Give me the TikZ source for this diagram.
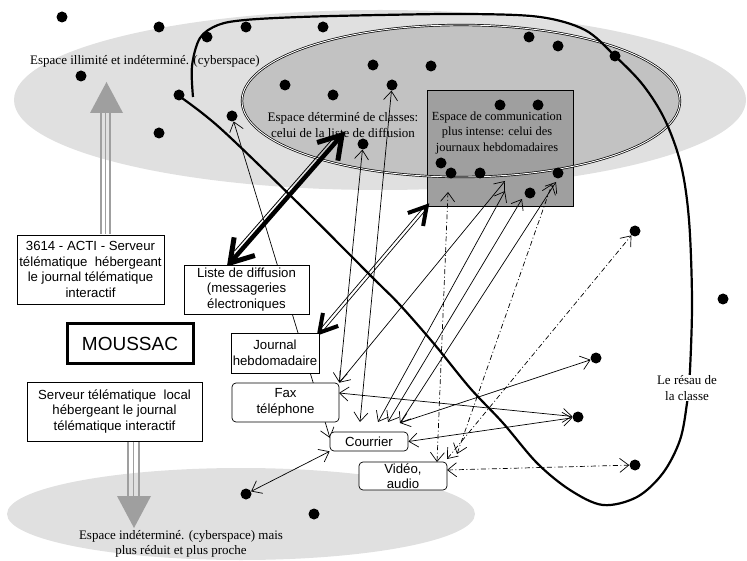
\documentclass[tikz,border=0pt]{standalone}
\usepackage{fontspec}
\setmainfont{Liberation Serif}
\newfontfamily\arial{Liberation Sans}
\usetikzlibrary{arrows.meta,calc}
\pgfdeclarelayer{back}
\pgfdeclarelayer{lines}
\pgfsetlayers{back,lines,main}
\begin{document}
\begin{tikzpicture}[x=1pt,y=-1pt,
  box/.style={draw, fill=white, line width=0.7pt, font=\arial\fontsize{13.2}{15.5}\selectfont, align=center, inner sep=0pt},
  rbox/.style={box, rounded corners=4pt},
  lab/.style={font=\fontsize{13}{15.5}\selectfont, align=center, inner sep=0pt},
  dot/.style={circle, fill=black, inner sep=0pt, minimum size=11pt},
  conn/.style={line width=0.7pt, {Straight Barb[length=9pt,width=14pt]}-{Straight Barb[length=9pt,width=14pt]}},
  dd/.style={conn, dash pattern=on 5pt off 2.5pt on 1pt off 2.5pt},
  greyarrow/.style={gray!75},
]
\useasboundingbox (0,0) rectangle (747,561);

\begin{pgfonlayer}{back}
  \fill[gray!24] (380,100) ellipse [x radius=366pt, y radius=90pt];
  \fill[gray!24] (241,514) ellipse [x radius=234pt, y radius=46pt];
  \fill[gray!48] (461,101) ellipse [x radius=219pt, y radius=76pt];
  \node[draw, line width=0.6pt, fill=gray!75, minimum width=146pt, minimum height=116pt, inner sep=0pt] (comm) at (500,148) {};
  \draw[double, double distance=0.9pt, line width=0.7pt] (461,101) ellipse [x radius=219pt, y radius=76pt];
  \node[lab] (illim) at (145,61) {Espace illimité et indéterminé. (cyberspace)};
  \node[lab] (classes) at (343,125) {Espace déterminé de classes:\\celui de la liste de diffusion};
  \node[lab, font=\fontsize{12.4}{15.5}\selectfont] (commtxt) at (497,133) {Espace de communication\\plus intense: celui des\\journaux hebdomadaires};
  \node[lab] (proche) at (181,544) {Espace indéterminé. (cyberspace) mais\\plus réduit et plus proche};
\end{pgfonlayer}

% boxes
\node[box, minimum width=147pt, minimum height=69pt] (acti) at (90.5,269.5) {3614 - ACTI - Serveur\\télématique\ \ hébergeant\\le journal télématique\\interactif};
\node[box, minimum width=125pt, minimum height=49pt] (liste) at (246.5,289.5) {Liste de diffusion\\(messageries\\électroniques};
\node[box, line width=3pt, minimum width=126pt, minimum height=39pt, font=\arial\fontsize{19}{22}\selectfont] (moussac) at (130,343.5) {MOUSSAC};
\node[box, minimum width=88pt, minimum height=40pt] (journal) at (275,353) {Journal\\hebdomadaire};
\node[rbox, minimum width=107pt, minimum height=39pt] (fax) at (285.5,402.5) {Fax\\téléphone};
\node[rbox, minimum width=78pt, minimum height=19pt] (courrier) at (369,441.5) {Courrier};
\node[rbox, minimum width=88pt, minimum height=28pt] (video) at (403,476) {Vidéo,\\audio};
\node[box, minimum width=175pt, minimum height=59pt] (local) at (114.5,411.5) {Serveur télématique\ \ local\\hébergeant le journal\\télématique interactif};

% connector end points
\coordinate (cl) at (330,438);
\coordinate (ct1) at (378,422);
\coordinate (ct2) at (388,422);
\coordinate (ct3) at (400,423);
\coordinate (ct4) at (360,422);
\coordinate (ru1) at (505,181);
\coordinate (ru2) at (505,191);
\coordinate (ru3) at (522,199);
\coordinate (ru4) at (556,182);
\coordinate (ru5) at (552,184);
\coordinate (ru6) at (448,192);
\coordinate (fe) at (339,393);
\coordinate (vt1) at (437,462);
\coordinate (vt2) at (447,459);
\coordinate (vt3) at (457,454);
\coordinate (ve) at (447,470);
\coordinate (la) at (230,263);
\coordinate (lb) at (342,135);

\begin{pgfonlayer}{lines}
  % class network curve
  \draw[line width=2.2pt] plot[smooth, tension=0.55] coordinates {(193,97) (192,66) (200,38) (218,25) (245,20) (300,17) (380,15) (470,14) (540,17) (585,30) (615,56) (643,85) (665,120) (681,165) (689,220) (692,300) (690,370) (687,403) (680,440) (663,473) (637,497) (603,505) (570,490) (537,463) (503,423) (470,388) (435,345) (400,305) (373,278) (300,205) (220,128) (179,96)};
  % dots
  \foreach \p [count=\i] in {(62,17),(159,27),(246,27),(207,37),(323,27),(373,65),(81,76),(179,95),(285,85),(333,95),(159,133),(431,66),(529,37),(558,46),(615,56),(500,105),(538,105),(441,163),(451,173),(480,173),(558,173),(530,193),(723,299),(314,514)}
    \node[dot] (p\i) at \p {};
  \node[dot] (dA) at (232,116) {};
  \node[dot] (dB) at (363,144) {};
  \node[dot] (dC) at (392,85) {};
  \node[dot] (dD) at (578,417) {};
  \node[dot] (dE) at (596,358) {};
  \node[dot] (dF) at (246,494) {};
  \node[dot] (dG) at (635,231) {};
  \node[dot] (dH) at (635,465) {};
  % thin connectors
  \draw[conn] (cl) -- (dA);
  \draw[conn] (fax.north east) -- (dB);
  \draw[conn] (ct4) -- (dC);
  \draw[conn] (fax.north east) -- (ru1);
  \draw[conn] (ct1) -- (ru2);
  \draw[conn] (ct2) -- (ru3);
  \draw[conn] (ct3) -- (ru4);
  \draw[conn] (fe) -- (dD);
  \draw[conn] (courrier.east) -- (dD);
  \draw[conn] (ct3) -- (dE);
  \draw[conn] (courrier.south west) -- (dF);
  % dash-dot connectors
  \draw[dd] (vt1) -- (ru6);
  \draw[dd] (vt2) -- (dG);
  \draw[dd] (vt3) -- (ru5);
  \draw[dd] (ve) -- (dH);
  % thick arrow liste <-> classes
  \draw[line width=4.5pt, shorten <=3pt, shorten >=3pt] (la) -- (lb);
  \draw[line width=0.8pt, shorten <=12pt, shorten >=12pt] ($(la)!4.5pt!90:(lb)$) -- ($(lb)!4.5pt!-90:(la)$);
  \draw[line width=5pt] ($(lb)!26pt!32:(la)$) -- (lb) -- ($(lb)!26pt!-32:(la)$);
  \draw[line width=5pt] ($(la)!26pt!32:(lb)$) -- (la) -- ($(la)!26pt!-32:(lb)$);
  % double arrow journal <-> comm
  \draw[line width=0.7pt, shorten <=3pt, shorten >=3pt] ($(journal.north east)!1.6pt!90:(comm.south west)$) -- ($(comm.south west)!1.6pt!-90:(journal.north east)$);
  \draw[line width=0.7pt, shorten <=3pt, shorten >=3pt] ($(journal.north east)!1.6pt!-90:(comm.south west)$) -- ($(comm.south west)!1.6pt!90:(journal.north east)$);
  \draw[line width=4pt] ($(comm.south west)!20pt!30:(journal.north east)$) -- (comm.south west) -- ($(comm.south west)!20pt!-30:(journal.north east)$);
  \draw[line width=4pt] ($(journal.north east)!20pt!30:(comm.south west)$) -- (journal.north east) -- ($(journal.north east)!20pt!-30:(comm.south west)$);
\end{pgfonlayer}

\node[lab, fill=white, inner sep=1pt] (reseau) at (687,388) {Le résau de\\la classe};

% grey arrows
\draw[greyarrow, line width=1.6pt] (101,234) -- (101,112) (105.5,234) -- (105.5,112) (110,234) -- (110,112);
\fill[greyarrow] (90,113) -- (123,113) -- (106.5,82) -- cycle;
\draw[greyarrow, line width=1.6pt] (128,442) -- (128,497) (133.5,442) -- (133.5,497) (139,442) -- (139,497);
\fill[greyarrow] (117,496) -- (151,496) -- (134,528) -- cycle;
\end{tikzpicture}
\end{document}
